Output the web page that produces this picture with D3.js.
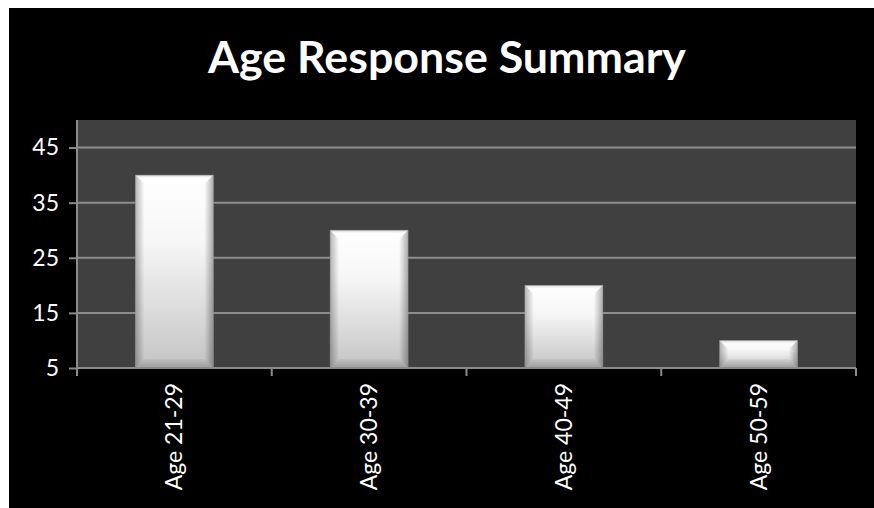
<!DOCTYPE html>
<html><head><meta charset="utf-8">
<script src="https://cdn.jsdelivr.net/npm/d3@7/dist/d3.min.js"></script>
<style>html,body{margin:0;padding:0;background:#fff;}svg{display:block;}</style>
</head><body>
<script>
const categories = ["Age 21-29", "Age 30-39", "Age 40-49", "Age 50-59"];
const values = [40, 30, 20, 10];
const yTicks = [5, 15, 25, 35, 45];
const title = "Age Response Summary";

const W = 874, H = 508;
const svg = d3.select("body").append("svg").attr("width", W).attr("height", H);
const defs = svg.append("defs");

// backgrounds
svg.append("rect").attr("x", 0).attr("y", 0).attr("width", W).attr("height", H).attr("fill", "#fff");
svg.append("rect").attr("x", 9).attr("y", 8).attr("width", W - 9).attr("height", H - 8).attr("fill", "#000");

const m = {left: 77, right: 856, top: 120, bottom: 368};
const x = d3.scaleBand().domain(categories).range([m.left, m.right]).paddingInner(0.6).paddingOuter(0.3);
const band = d3.scaleBand().domain(categories).range([m.left, m.right]).padding(0);
const y = d3.scaleLinear().domain([5, 50]).range([m.bottom, m.top]);

// plot area
svg.append("rect").attr("x", m.left).attr("y", m.top).attr("width", m.right - m.left).attr("height", m.bottom - m.top).attr("fill", "#404040");

const gridColor = "#8c8c8c";
// gridlines
svg.append("g").selectAll("line").data(yTicks.filter(d => d !== 5)).join("line")
  .attr("x1", m.left).attr("x2", m.right)
  .attr("y1", d => y(d)).attr("y2", d => y(d))
  .attr("stroke", gridColor).attr("stroke-width", 2);

// gradients
const gv = defs.append("linearGradient").attr("id", "gv").attr("x1", 0).attr("y1", 0).attr("x2", 0).attr("y2", 1);
gv.append("stop").attr("offset", 0).attr("stop-color", "#ffffff");
gv.append("stop").attr("offset", 0.35).attr("stop-color", "#f6f6f6");
gv.append("stop").attr("offset", 1).attr("stop-color", "#c4c4c4");
const gl = defs.append("linearGradient").attr("id", "gl").attr("x1", 0).attr("y1", 0).attr("x2", 1).attr("y2", 0);
gl.append("stop").attr("offset", 0).attr("stop-color", "#000").attr("stop-opacity", 0.28);
gl.append("stop").attr("offset", 1).attr("stop-color", "#000").attr("stop-opacity", 0);
const gr = defs.append("linearGradient").attr("id", "gr").attr("x1", 1).attr("y1", 0).attr("x2", 0).attr("y2", 0);
gr.append("stop").attr("offset", 0).attr("stop-color", "#000").attr("stop-opacity", 0.32);
gr.append("stop").attr("offset", 1).attr("stop-color", "#000").attr("stop-opacity", 0);
const gb = defs.append("linearGradient").attr("id", "gb").attr("x1", 0).attr("y1", 1).attr("x2", 0).attr("y2", 0);
gb.append("stop").attr("offset", 0).attr("stop-color", "#000").attr("stop-opacity", 0.2);
gb.append("stop").attr("offset", 1).attr("stop-color", "#000").attr("stop-opacity", 0.04);
const gt = defs.append("linearGradient").attr("id", "gt").attr("x1", 0).attr("y1", 0).attr("x2", 0).attr("y2", 1);
gt.append("stop").attr("offset", 0).attr("stop-color", "#000").attr("stop-opacity", 0.15);
gt.append("stop").attr("offset", 1).attr("stop-color", "#000").attr("stop-opacity", 0);

const bars = svg.append("g").selectAll("g").data(categories).join("g");
const bev = 9;
bars.each(function(c, i) {
  const g = d3.select(this);
  const x0 = x(c), w = x.bandwidth(), y0 = y(values[i]), y1 = y(5), h = y1 - y0;
  g.append("rect").attr("x", x0).attr("y", y0).attr("width", w).attr("height", h).attr("fill", "url(#gv)");
  // top bevel
  g.append("path").attr("d", `M${x0},${y0}L${x0 + w},${y0}L${x0 + w - 3},${y0 + 3}L${x0 + 3},${y0 + 3}Z`).attr("fill", "url(#gt)");
  // left bevel
  g.append("path").attr("d", `M${x0},${y0}L${x0 + bev},${y0 + bev}L${x0 + bev},${y1 - bev}L${x0},${y1}Z`).attr("fill", "url(#gl)");
  // right bevel
  g.append("path").attr("d", `M${x0 + w},${y0}L${x0 + w - bev},${y0 + bev}L${x0 + w - bev},${y1 - bev}L${x0 + w},${y1}Z`).attr("fill", "url(#gr)");
  // bottom bevel
  g.append("path").attr("d", `M${x0},${y1}L${x0 + bev},${y1 - bev}L${x0 + w - bev},${y1 - bev}L${x0 + w},${y1}Z`).attr("fill", "url(#gb)");
  g.append("rect").attr("x", x0).attr("y", y0).attr("width", w).attr("height", h).attr("fill", "none").attr("stroke", "#9a9a9a").attr("stroke-width", 0.8).attr("stroke-opacity", 0.6);
});

// y axis
const yAxis = svg.append("g").attr("transform", `translate(${m.left},0)`)
  .call(d3.axisLeft(y).tickValues(yTicks).tickSize(8).tickPadding(10).tickFormat(d3.format("d")));
yAxis.select(".domain").attr("stroke", gridColor).attr("stroke-width", 2).attr("d", `M0,${m.top}V${m.bottom + 8}`);
yAxis.selectAll(".tick line").attr("stroke", gridColor).attr("stroke-width", 2);
yAxis.selectAll("text").attr("fill", "#fff").style("font-family", "Lato, 'Open Sans', sans-serif").style("font-size", "23px");

// x axis
const xAxis = svg.append("g").attr("transform", `translate(0,${m.bottom})`)
  .call(d3.axisBottom(band).tickSize(0).tickPadding(0));
xAxis.select(".domain").attr("stroke", gridColor).attr("stroke-width", 2).attr("d", `M${m.left},0H${m.right}`);
// boundary ticks
xAxis.append("g").selectAll("line").data(d3.range(categories.length + 1)).join("line")
  .attr("x1", i => m.left + i * band.bandwidth()).attr("x2", i => m.left + i * band.bandwidth())
  .attr("y1", 0).attr("y2", 8).attr("stroke", gridColor).attr("stroke-width", 2);
xAxis.selectAll(".tick text")
  .attr("fill", "#fff").attr("text-anchor", "end").attr("dy", "0.35em")
  .attr("transform", "translate(0,15) rotate(-90)")
  .style("font-family", "Lato, 'Open Sans', sans-serif").style("font-size", "23px");

// title
const t = svg.append("text").attr("x", 447).attr("y", 73).attr("text-anchor", "middle")
  .attr("fill", "#fff").style("font-family", "Lato, 'Open Sans', sans-serif").style("font-weight", "bold").style("font-size", "40px")
  .text(title);
const tw = t.node().getComputedTextLength();
t.style("font-size", (40 * 478 / tw) + "px");
</script>
</body></html>
